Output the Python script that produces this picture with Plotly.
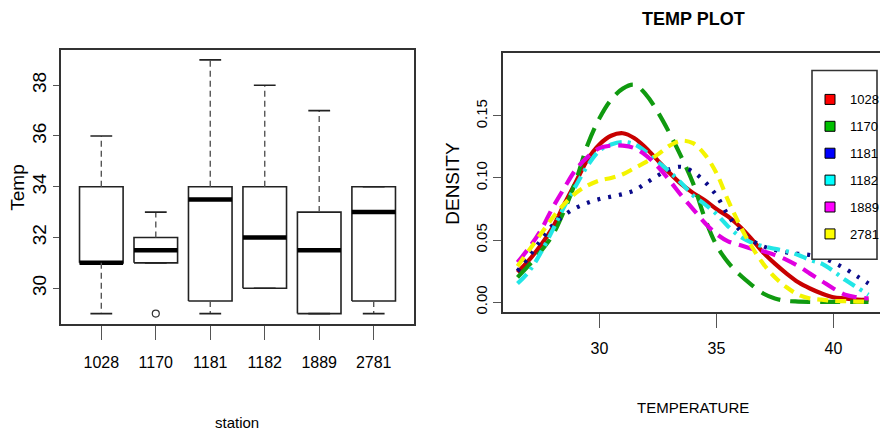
import plotly.graph_objects as go

# ---------------- data ----------------
stations = ["1028", "1170", "1181", "1182", "1889", "2781"]
box_low = [29, 31, 29, 30, 29, 29]        # lower whisker end
box_q1 = [31, 31, 29.5, 30, 29, 29.5]
box_median = [31, 31.5, 33.5, 32, 31.5, 33]
box_q3 = [34, 32, 34, 34, 33, 34]
box_high = [36, 33, 39, 38, 37, 34]       # upper whisker end
outlier_station = ["1170"]
outlier_temp = [29]

temp_grid = [26.5, 27.0, 27.5, 28.0, 28.5, 29.0, 29.5, 30.0, 30.5, 31.0, 31.5,
             32.0, 32.5, 33.0, 33.5, 34.0, 34.5, 35.0, 35.5, 36.0, 36.5, 37.0,
             37.5, 38.0, 38.5, 39.0, 39.5, 40.0, 40.5, 41.0, 41.5]
dens_1028 = [0.024, 0.034, 0.046, 0.060, 0.079, 0.097, 0.115, 0.127, 0.134, 0.136, 0.132,
             0.124, 0.114, 0.104, 0.095, 0.088, 0.082, 0.075, 0.069, 0.061, 0.051, 0.040,
             0.031, 0.023, 0.016, 0.011, 0.007, 0.004, 0.003, 0.002, 0.002]
dens_1170 = [0.020, 0.030, 0.041, 0.054, 0.074, 0.098, 0.127, 0.148, 0.163, 0.172, 0.175,
             0.167, 0.153, 0.136, 0.117, 0.096, 0.068, 0.046, 0.032, 0.022, 0.014, 0.007,
             0.003, 0.001, 0.0005, 0.0003, 0.0002, 0.0002, 0.0002, 0.0002, 0.0002]
dens_1181 = [0.025, 0.037, 0.050, 0.062, 0.070, 0.076, 0.080, 0.083, 0.085, 0.087, 0.090,
             0.096, 0.102, 0.107, 0.109, 0.105, 0.097, 0.086, 0.070, 0.058, 0.050, 0.045,
             0.042, 0.040, 0.039, 0.038, 0.036, 0.032, 0.027, 0.021, 0.015]
dens_1182 = [0.015, 0.025, 0.040, 0.058, 0.077, 0.094, 0.110, 0.122, 0.127, 0.129, 0.127,
             0.121, 0.113, 0.105, 0.096, 0.086, 0.079, 0.071, 0.061, 0.053, 0.048, 0.045,
             0.043, 0.041, 0.038, 0.034, 0.031, 0.025, 0.018, 0.012, 0.006]
dens_1889 = [0.032, 0.044, 0.058, 0.076, 0.092, 0.107, 0.117, 0.124, 0.126, 0.126, 0.124,
             0.118, 0.109, 0.098, 0.086, 0.075, 0.064, 0.055, 0.049, 0.046, 0.043, 0.041,
             0.038, 0.034, 0.029, 0.023, 0.017, 0.011, 0.006, 0.004, 0.003]
dens_2781 = [0.029, 0.042, 0.055, 0.068, 0.079, 0.088, 0.094, 0.098, 0.100, 0.103, 0.108,
             0.113, 0.119, 0.126, 0.130, 0.128, 0.119, 0.104, 0.082, 0.062, 0.045, 0.031,
             0.020, 0.012, 0.006, 0.003, 0.002, 0.001, 0.0008, 0.0005, 0.0003]

left_ytick_vals = [30, 32, 34, 36, 38]
right_xtick_vals = [30, 35, 40]
right_ytick_vals = [0.0, 0.05, 0.10, 0.15]
right_ytick_text = ["0.00", "0.05", "0.10", "0.15"]

# ---------------- styles ----------------
# page body has an 8px default margin, so the figure is drawn 8px in from the window edge
OFF = 8
W, H = 888 - OFF, 436 - OFF
SANS = "Liberation Sans, Arial, sans-serif"
BOX_COL = "#222222"

dens_series = [
    ("1028", dens_1028, "#c80000", "solid", "#ff0000"),
    ("1170", dens_1170, "#109a10", "20px,10px", "#00c000"),
    ("1181", dens_1181, "#0a0a8a", "3px,8px", "#0000ff"),
    ("1182", dens_1182, "#22e6e6", "13px,6px,3px,6px", "#00ffff"),
    ("1889", dens_1889, "#e000e0", "15px,8px", "#ff00ff"),
    ("2781", dens_2781, "#f4f400", "11px,7px", "#ffff00"),
]

fig = go.Figure()

# ---------------- left: box plot ----------------
half_box = 0.4
half_cap = 0.2
for i, st in enumerate(stations):
    xc = i + 1
    fig.add_trace(go.Scatter(
        x=[xc - half_box, xc + half_box, xc + half_box, xc - half_box, xc - half_box],
        y=[box_q1[i], box_q1[i], box_q3[i], box_q3[i], box_q1[i]],
        mode="lines", line=dict(color=BOX_COL, width=1.6),
        showlegend=False, hoverinfo="skip", xaxis="x", yaxis="y"))
    fig.add_trace(go.Scatter(
        x=[xc - half_box, xc + half_box], y=[box_median[i], box_median[i]],
        mode="lines", line=dict(color="black", width=4.5),
        showlegend=False, hoverinfo="skip", xaxis="x", yaxis="y"))
    for a, b in ((box_q3[i], box_high[i]), (box_q1[i], box_low[i])):
        if a != b:
            fig.add_trace(go.Scatter(
                x=[xc, xc], y=[a, b], mode="lines",
                line=dict(color="#555555", width=1.4, dash="6px,4px"),
                showlegend=False, hoverinfo="skip", xaxis="x", yaxis="y"))
    for v in (box_high[i], box_low[i]):
        fig.add_trace(go.Scatter(
            x=[xc - half_cap, xc + half_cap], y=[v, v], mode="lines",
            line=dict(color=BOX_COL, width=1.6),
            showlegend=False, hoverinfo="skip", xaxis="x", yaxis="y"))

fig.add_trace(go.Scatter(
    x=[stations.index(s) + 1 for s in outlier_station], y=outlier_temp,
    mode="markers", marker=dict(symbol="circle-open", size=7, color="#333333",
                                line=dict(width=1.2)),
    showlegend=False, hoverinfo="skip", xaxis="x", yaxis="y"))

# ---------------- right: densities ----------------
for name, ys, col, dash, _ in dens_series:
    fig.add_trace(go.Scatter(
        x=temp_grid, y=ys, mode="lines",
        line=dict(color=col, width=4.2, dash=dash, shape="spline"),
        showlegend=False, hoverinfo="skip", xaxis="x2", yaxis="y2"))

for name, ys, col, dash, lcol in dens_series:
    fig.add_trace(go.Scatter(
        x=[None], y=[None], mode="markers", name=name, legendgroup=name,
        marker=dict(symbol="square", size=10, color=lcol, line=dict(color="black", width=1)),
        xaxis="x2", yaxis="y2"))


def px_x(p):
    return (p - OFF) / W


def px_y(p):
    return 1 - (p - OFF) / H


axis_common = dict(showgrid=False, zeroline=False, showline=True, mirror=True,
                   linecolor="#333333", linewidth=1.8, ticks="outside",
                   tickcolor="#555555", tickwidth=1.4)

fig.update_layout(
    width=W, height=H,
    margin=dict(l=0, r=0, t=0, b=0),
    paper_bgcolor="white", plot_bgcolor="white",
    showlegend=True,
    xaxis=dict(domain=[px_x(61), px_x(414)], range=[0.26, 6.74],
               tickmode="array", tickvals=[1, 2, 3, 4, 5, 6], ticktext=stations,
               ticklen=14, ticklabelstandoff=9,
               tickfont=dict(family=SANS, size=16, color="black"), **axis_common),
    yaxis=dict(domain=[px_y(326), px_y(50)], range=[28.6, 39.4],
               tickmode="array", tickvals=left_ytick_vals, tickangle=-90,
               ticklen=6, tickfont=dict(family=SANS, size=19, color="black"), **axis_common),
    xaxis2=dict(domain=[px_x(503), px_x(883)], range=[25.88, 42.12], anchor="y2",
                tickmode="array", tickvals=right_xtick_vals,
                ticklen=14, ticklabelstandoff=7,
                tickfont=dict(family=SANS, size=16, color="black"), **axis_common),
    yaxis2=dict(domain=[px_y(314), px_y(53)], range=[-0.0078, 0.2009], anchor="x2",
                tickmode="array", tickvals=right_ytick_vals, ticktext=right_ytick_text,
                tickangle=-90, ticklen=8,
                tickfont=dict(family=SANS, size=15, color="black"), **axis_common),
    legend=dict(x=px_x(810), y=px_y(85), xanchor="left", yanchor="top",
                bgcolor="rgba(0,0,0,0)", borderwidth=0,
                font=dict(family=SANS, size=13, color="black"),
                tracegroupgap=7),
    shapes=[dict(type="rect", xref="paper", yref="paper",
                 x0=px_x(812), x1=px_x(877), y0=px_y(261), y1=px_y(71),
                 line=dict(color="#333333", width=1.6), fillcolor="white", layer="above")],
    annotations=[
        dict(text="TEMP PLOT", x=px_x(693), y=px_y(19), xref="paper", yref="paper",
             showarrow=False, xanchor="center", yanchor="middle",
             font=dict(family=SANS, size=18, color="black", weight="bold")),
        dict(text="Temp", x=px_x(18), y=px_y(189), xref="paper", yref="paper",
             showarrow=False, textangle=-90, xanchor="center", yanchor="middle",
             font=dict(family=SANS, size=19, color="black")),
        dict(text="station", x=px_x(237), y=px_y(425), xref="paper", yref="paper",
             showarrow=False, xanchor="center", yanchor="middle",
             font=dict(family=SANS, size=15, color="black")),
        dict(text="DENSITY", x=px_x(453), y=px_y(185), xref="paper", yref="paper",
             showarrow=False, textangle=-90, xanchor="center", yanchor="middle",
             font=dict(family=SANS, size=19, color="black")),
        dict(text="TEMPERATURE", x=px_x(693), y=px_y(410), xref="paper", yref="paper",
             showarrow=False, xanchor="center", yanchor="middle",
             font=dict(family=SANS, size=15, color="black")),
    ],
)

fig.write_html("out.html")
